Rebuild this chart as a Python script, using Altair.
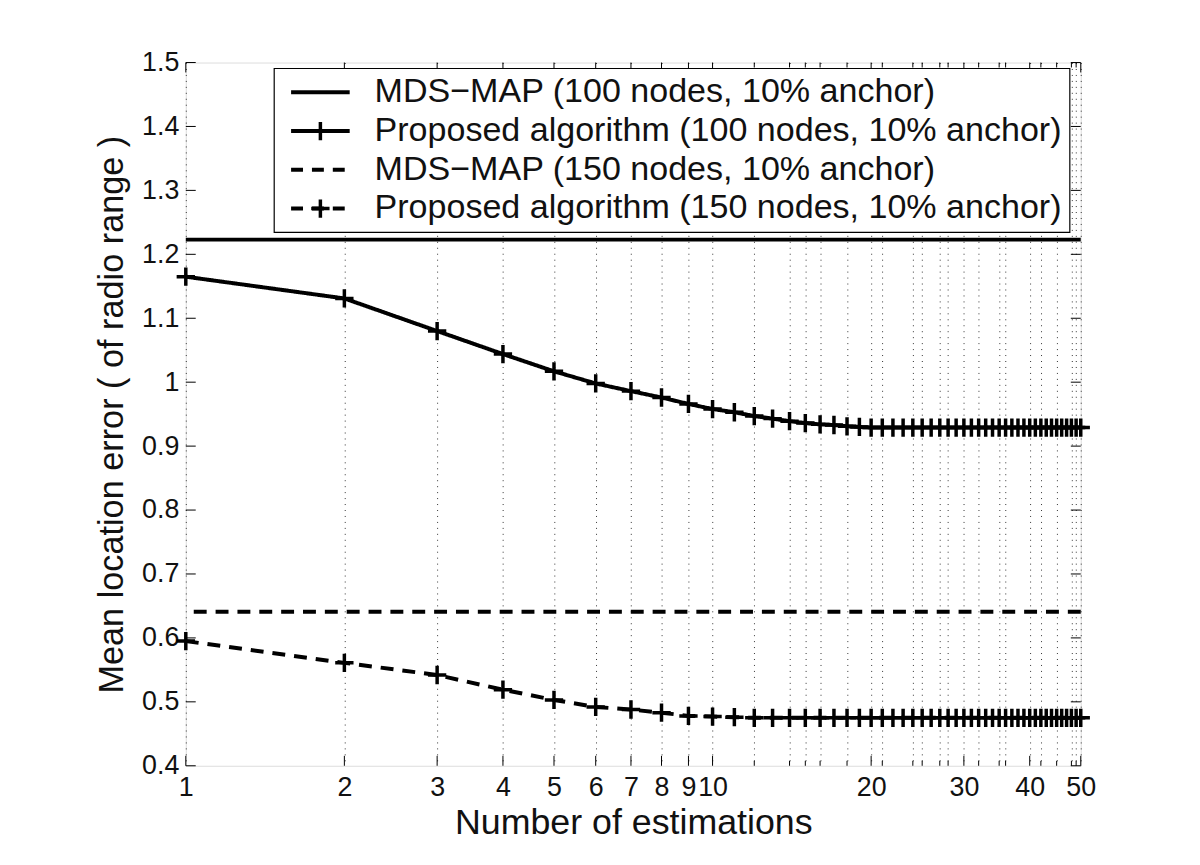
import altair as alt
import pandas as pd

# ---------------- data ----------------
n_values = list(range(1, 51))

proposed_100 = [1.165, 1.131, 1.080, 1.044, 1.017, 0.998, 0.986, 0.976, 0.966, 0.958,
                0.953, 0.947, 0.943, 0.939, 0.936, 0.934, 0.933, 0.931, 0.930, 0.929,
                0.929, 0.929, 0.929, 0.929, 0.929, 0.929, 0.929, 0.929, 0.929, 0.929,
                0.929, 0.929, 0.929, 0.929, 0.929, 0.929, 0.929, 0.929, 0.929, 0.929,
                0.929, 0.929, 0.929, 0.929, 0.929, 0.929, 0.929, 0.929, 0.929, 0.929]

proposed_150 = [0.595, 0.561, 0.542, 0.519, 0.503, 0.492, 0.488, 0.483, 0.478, 0.477,
                0.476, 0.475, 0.475, 0.475, 0.475, 0.475, 0.475, 0.475, 0.475, 0.475,
                0.475, 0.475, 0.475, 0.475, 0.475, 0.475, 0.475, 0.475, 0.475, 0.475,
                0.475, 0.475, 0.475, 0.475, 0.475, 0.475, 0.475, 0.475, 0.475, 0.475,
                0.475, 0.475, 0.475, 0.475, 0.475, 0.475, 0.475, 0.475, 0.475, 0.475]

mds_100 = 1.223
mds_150 = 0.641

series_names = [
    "MDS\u2212MAP (100 nodes, 10% anchor)",
    "Proposed algorithm (100 nodes, 10% anchor)",
    "MDS\u2212MAP (150 nodes, 10% anchor)",
    "Proposed algorithm (150 nodes, 10% anchor)",
]

x_tick_values = [1, 2, 3, 4, 5, 6, 7, 8, 9, 10, 12, 14, 15, 16, 18, 20, 21, 24, 25,
                 27, 28, 30, 32, 35, 36, 40, 42, 45, 48, 49, 50]
x_label_values = [1, 2, 3, 4, 5, 6, 7, 8, 9, 10, 20, 30, 40, 50]
x_minor_values = [12, 14, 15, 16, 18, 21, 24, 25, 27, 28, 32, 35, 36, 42, 45, 48, 49]
y_tick_values = [0.4, 0.5, 0.6, 0.7, 0.8, 0.9, 1.0, 1.1, 1.2, 1.3, 1.4, 1.5]

# ---------------- styling ----------------
W, H = 901, 708
FONT = "Liberation Sans"
LW = 4
DASH = [13, 9]
SOLID = [1, 0]
CROSS = "M-1,0L1,0M0,-1L0,1"
CROSS_SIZE = 340

curves = pd.DataFrame({
    "n": n_values * 2,
    "err": proposed_100 + proposed_150,
    "series": [series_names[1]] * 50 + [series_names[3]] * 50,
})
mds = pd.DataFrame({"err": [mds_100, mds_150], "series": [series_names[0], series_names[2]]})

label_list = ",".join(str(v) for v in x_label_values)
x_axis = alt.Axis(
    values=x_tick_values,
    labelExpr=f"indexof([{label_list}], datum.value) >= 0 ? toString(datum.value) : ''",
    grid=True, gridDash=[1, 5], gridColor="#333", gridWidth=1,
    ticks=False, domain=False,
    labelFont=FONT, labelFontSize=27, labelColor="#111", labelPadding=9,
    labelOverlap=False, labelFlush=False, labelBound=False,
    title="Number of estimations", titleFont=FONT, titleFontSize=36,
    titleFontWeight="normal", titleColor="#111", titlePadding=5,
)
y_axis = alt.Axis(
    values=y_tick_values, format="~g",
    grid=False, ticks=False, domain=False,
    labelFont=FONT, labelFontSize=27, labelColor="#111", labelPadding=7,
    title="Mean location error ( of radio range )", titleFont=FONT, titleFontSize=34.5,
    titleFontWeight="normal", titleColor="#111", titlePadding=12,
)
x_scale = alt.Scale(type="log", domain=[1, 50], nice=False)
y_scale = alt.Scale(domain=[0.4, 1.5], nice=False, zero=False)

X = alt.X("n:Q", scale=x_scale, axis=x_axis)
Y = alt.Y("err:Q", scale=y_scale, axis=y_axis)

dash_scale = alt.Scale(domain=series_names, range=[SOLID, SOLID, DASH, DASH])

lines = alt.Chart(curves).mark_line(color="black", strokeWidth=LW).encode(
    x=X, y=Y,
    strokeDash=alt.StrokeDash("series:N", scale=dash_scale, legend=None),
    detail="series:N",
)
points = alt.Chart(curves).mark_point(
    shape=CROSS, filled=False, color="black", strokeWidth=3.5, size=CROSS_SIZE, opacity=1
).encode(x=X, y=Y)
mds_rules = alt.Chart(mds).mark_rule(color="black", strokeWidth=LW).encode(
    y=Y,
    strokeDash=alt.StrokeDash("series:N", scale=dash_scale, legend=None),
)

# inward tick marks (box on all sides)
xmaj = pd.DataFrame({"n": x_label_values})
xmin = pd.DataFrame({"n": x_minor_values})
yt = pd.DataFrame({"err": y_tick_values})
tick_layers = [
    alt.Chart(xmaj).mark_rule(color="black", strokeWidth=1).encode(x=X, y=alt.value(H), y2=alt.value(H - 10)),
    alt.Chart(xmaj).mark_rule(color="black", strokeWidth=1).encode(x=X, y=alt.value(0), y2=alt.value(10)),
    alt.Chart(xmin).mark_rule(color="black", strokeWidth=1).encode(x=X, y=alt.value(H), y2=alt.value(H - 5)),
    alt.Chart(xmin).mark_rule(color="black", strokeWidth=1).encode(x=X, y=alt.value(0), y2=alt.value(5)),
    alt.Chart(yt).mark_rule(color="black", strokeWidth=1).encode(y=Y, x=alt.value(0), x2=alt.value(10)),
    alt.Chart(yt).mark_rule(color="black", strokeWidth=1).encode(y=Y, x=alt.value(W), x2=alt.value(W - 10)),
]

# legend
one = pd.DataFrame({"k": [0]})
legend_layers = [
    alt.Chart(one).mark_rect(fill="white", stroke="black", strokeWidth=1.2).encode(
        x=alt.value(89), x2=alt.value(890), y=alt.value(6), y2=alt.value(171))
]
legend_dash = [SOLID, SOLID, [12, 9], [12, 9]]
legend_marker = [False, True, False, True]
for i, name in enumerate(series_names):
    yy = 30 + 39 * i
    legend_layers.append(
        alt.Chart(one).mark_rule(color="black", strokeWidth=LW, strokeDash=legend_dash[i]).encode(
            x=alt.value(106), x2=alt.value(165), y=alt.value(yy)))
    if legend_marker[i]:
        legend_layers.append(
            alt.Chart(one).mark_point(shape=CROSS, filled=False, color="black", strokeWidth=3.5,
                                      size=CROSS_SIZE, opacity=1).encode(
                x=alt.value(135.5), y=alt.value(yy)))
    legend_layers.append(
        alt.Chart(one).mark_text(align="left", baseline="middle", font=FONT, fontSize=34.3,
                                 color="#111").encode(
            x=alt.value(190), y=alt.value(yy), text=alt.value(name)))

chart = alt.layer(lines, points, mds_rules, *tick_layers, *legend_layers).properties(
    width=W, height=H,
    padding={"left": 179, "top": 52, "right": 112, "bottom": 97},
    autosize=alt.AutoSizeParams(type="none"),
).configure_view(stroke="black", strokeWidth=1.5).configure(background="white")

chart.save("out.html", embed_options={"renderer": "svg", "actions": False})
